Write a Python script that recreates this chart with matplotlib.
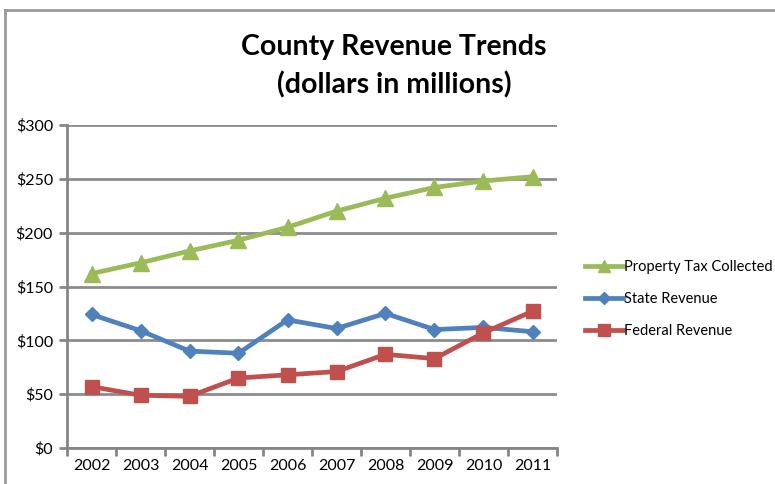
import matplotlib
matplotlib.use("Agg")
import matplotlib.pyplot as plt
from matplotlib.lines import Line2D

years = ["2002", "2003", "2004", "2005", "2006", "2007", "2008", "2009", "2010", "2011"]
property_tax = [162, 172, 183, 193, 205, 220, 232, 242, 248, 252]
state_rev = [124, 109, 90, 88, 119, 111, 125, 110, 112, 108]
federal_rev = [57, 49, 48, 65, 68, 71, 87, 83, 107, 127]

plt.rcParams['font.family'] = ['Lato', 'DejaVu Sans']

fig = plt.figure(figsize=(7.75, 4.84), dpi=100)
ax = fig.add_axes([67/775, 1-448/484, 490/775, 323/484])

x = list(range(len(years)))
ax.plot(x, property_tax, color='#9BBB59', lw=3.4, marker='^', ms=11, label='Property Tax Collected', zorder=3)
ax.plot(x, state_rev, color='#4F81BD', lw=3.4, marker='D', ms=7.5, label='State Revenue', zorder=3)
ax.plot(x, federal_rev, color='#C0504D', lw=3.4, marker='s', ms=10, label='Federal Revenue', zorder=3)

ax.set_xlim(-0.5, len(years) - 0.5)
ax.set_ylim(0, 300)
ax.set_yticks(range(0, 301, 50))
ax.set_yticklabels(['$%d' % v for v in range(0, 301, 50)])
ax.set_xticks(x)
ax.set_xticklabels(years)
ax.set_xticks([i - 0.5 for i in range(len(years) + 1)], minor=True)
ax.tick_params(axis='x', which='major', length=0, pad=8, labelsize=11.5)
ax.tick_params(axis='x', which='minor', length=6, width=2, color='#868686')
ax.tick_params(axis='y', length=6, width=2, color='#868686', labelsize=11.5, pad=4)

ax.grid(axis='y', color='#8c8c8c', lw=2)
ax.set_axisbelow(True)
for s in ['top', 'right']:
    ax.spines[s].set_visible(False)
for s in ['left', 'bottom']:
    ax.spines[s].set_color('#868686')
    ax.spines[s].set_linewidth(2)

fig.text(394/775, 1-47/484, 'County Revenue Trends', ha='center', va='center',
         fontsize=20.5, fontweight='bold')
fig.text(394/775, 1-85/484, '(dollars in millions)', ha='center', va='center',
         fontsize=20.5, fontweight='bold')

h, l = ax.get_legend_handles_labels()
fig.legend(h, l, loc='center left', bbox_to_anchor=(572/775, 1-299/484), frameon=False,
           fontsize=10.5, handlelength=2.6, handletextpad=0.05, labelspacing=1.25,
           markerscale=0.8)

# partial outer frame
fig.add_artist(Line2D([5/775, 1], [1-10/484, 1-10/484], color='#9a9a9a', lw=2, transform=fig.transFigure))
fig.add_artist(Line2D([5/775, 5/775], [0, 1-10/484], color='#9a9a9a', lw=2, transform=fig.transFigure))

fig.savefig('out.png', dpi=100)
